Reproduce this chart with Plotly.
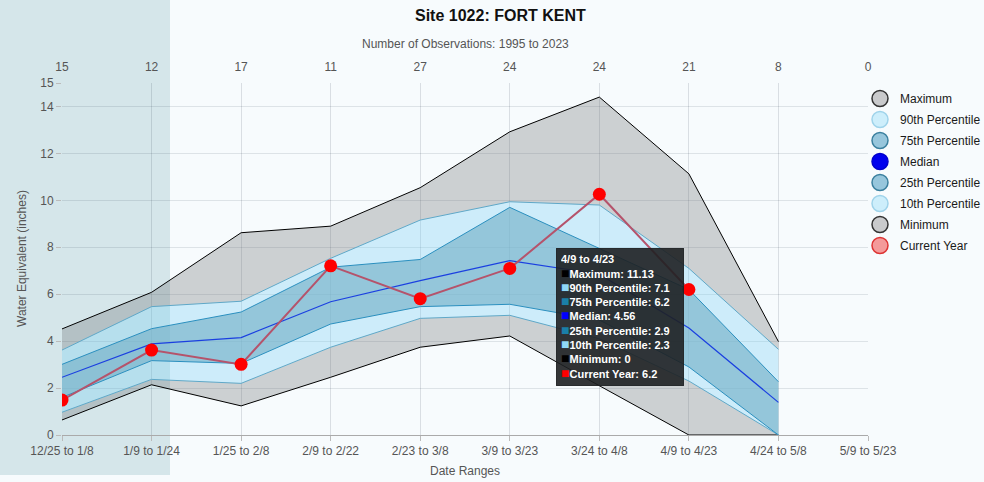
import plotly.graph_objects as go

dates = ["12/25 to 1/8", "1/9 to 1/24", "1/25 to 2/8", "2/9 to 2/22", "2/23 to 3/8",
         "3/9 to 3/23", "3/24 to 4/8", "4/9 to 4/23", "4/24 to 5/8", "5/9 to 5/23"]
obs_counts = [15, 12, 17, 11, 27, 24, 24, 21, 8, 0]
maximum = [4.52, 6.08, 8.62, 8.90, 10.54, 12.92, 14.40, 11.13, 3.98, None]
p90 = [3.62, 5.47, 5.70, 7.53, 9.16, 9.94, 9.80, 7.1, 3.65, None]
p75 = [3.01, 4.53, 5.24, 7.15, 7.48, 9.70, 7.95, 6.2, 2.27, None]
median = [2.46, 3.88, 4.15, 5.68, 6.58, 7.43, 6.85, 4.56, 1.39, None]
p25 = [1.6, 3.17, 3.05, 4.73, 5.47, 5.57, 4.9, 2.9, 0, None]
p10 = [0.97, 2.37, 2.20, 3.74, 4.97, 5.10, 4.1, 2.3, 0, None]
minimum = [0.64, 2.14, 1.24, 2.46, 3.74, 4.22, 2.1, 0, 0, None]
current = [1.49, 3.62, 3.01, 7.21, 5.81, 7.10, 10.26, 6.2, None, None]
y_ticks = [0, 2, 4, 6, 8, 10, 12, 14, 15]

tip_date = "4/9 to 4/23"
tip_idx = dates.index(tip_date)

FONT = "Arial, Liberation Sans, Helvetica, sans-serif"
GRAY = "rgba(106,108,112,0.30)"
LIGHT = "rgba(127,208,244,0.35)"
DARK = "rgba(117,181,207,0.76)"

W, H = 984, 482
ML, MR, MT, MB = 62, 116, 83, 47
PW, PH = W - ML - MR, H - MT - MB


def px(x):
    return (x - ML) / PW


def py(y):
    return (H - MB - y) / PH


fig = go.Figure()

band_specs = [
    ("Minimum", minimum, "black", 1, None, None),
    ("10th Percentile", p10, "#5fa8c8", 1, "tonexty", GRAY),
    ("25th Percentile", p25, "#2a8fbf", 1, "tonexty", LIGHT),
    ("Median", median, "#1a3fe0", 1.2, "tonexty", DARK),
    ("75th Percentile", p75, "#2a8fbf", 1, "tonexty", DARK),
    ("90th Percentile", p90, "#5fa8c8", 1, "tonexty", LIGHT),
    ("Maximum", maximum, "black", 1, "tonexty", GRAY),
]
for name, vals, col, w, fill, fc in band_specs:
    kw = dict(fill=fill, fillcolor=fc) if fill else {}
    fig.add_trace(go.Scatter(x=dates, y=vals, mode="lines", name=name,
                             line=dict(color=col, width=w), showlegend=False,
                             hoverinfo="skip", **kw))

fig.add_trace(go.Scatter(x=dates, y=current, mode="lines+markers", name="Current Year",
                         line=dict(color="#b5536b", width=2),
                         marker=dict(color="#ff0000", size=13, line=dict(width=0)),
                         showlegend=False))

# invisible trace for top axis
fig.add_trace(go.Scatter(x=dates, y=[None] * len(dates), xaxis="x2", yaxis="y",
                         mode="lines", showlegend=False, hoverinfo="skip"))

legend_specs = [
    ("Maximum", "#c9cacc", "#333333"),
    ("90th Percentile", "#cdeefb", "#9fd3ea"),
    ("75th Percentile", "#97c6dc", "#3a7f9e"),
    ("Median", "#0000ee", "#0000cc"),
    ("25th Percentile", "#97c6dc", "#3a7f9e"),
    ("10th Percentile", "#cdeefb", "#9fd3ea"),
    ("Minimum", "#c9cacc", "#333333"),
    ("Current Year", "#f49a9a", "#dd3333"),
]
for i, (name, fc, lc) in enumerate(legend_specs):
    fig.add_trace(go.Scatter(x=[None], y=[None], mode="markers", name=name,
                             legendgroup=f"g{i}",
                             marker=dict(color=fc, size=16, line=dict(color=lc, width=1.5))))

tip_rows = [
    ("Maximum", maximum, "#000000"),
    ("90th Percentile", p90, "#8fd8f8"),
    ("75th Percentile", p75, "#1a7fa8"),
    ("Median", median, "#0000ff"),
    ("25th Percentile", p25, "#1a7fa8"),
    ("10th Percentile", p10, "#8fd8f8"),
    ("Minimum", minimum, "#000000"),
    ("Current Year", current, "#ff0000"),
]
tip_lines = [f"<b>{tip_date}</b>"]
for name, arr, c in tip_rows:
    v = arr[tip_idx]
    vs = f"{v:g}"
    tip_lines.append(f"<span style='color:{c};font-size:14px'>■</span><b>{name}: {vs}</b>")
tip_text = "<br>".join(tip_lines)

annotations = [
    dict(text="<b>Site 1022: FORT KENT</b>", xref="paper", yref="paper",
         x=px(500), y=py(15), xanchor="center", yanchor="middle", showarrow=False,
         font=dict(size=16, color="#111", family=FONT)),
    dict(text="Number of Observations: 1995 to 2023", xref="paper", yref="paper",
         x=px(465), y=py(44), xanchor="center", yanchor="middle", showarrow=False,
         font=dict(size=12, color="#555", family=FONT)),
    dict(text="Date Ranges", xref="paper", yref="paper",
         x=px(465), y=py(471), xanchor="center", yanchor="middle", showarrow=False,
         font=dict(size=12, color="#555", family=FONT)),
    dict(text="Water Equivalent (inches)", xref="paper", yref="paper",
         x=px(22), y=0.5, xanchor="center", yanchor="middle", showarrow=False,
         textangle=-90, font=dict(size=12, color="#555", family=FONT)),
    dict(text=tip_text, xref="paper", yref="paper", x=px(556), y=py(248),
         xanchor="left", yanchor="top", showarrow=False, align="left",
         bgcolor="rgba(30,32,34,0.9)", bordercolor="rgba(30,32,34,0.9)",
         borderpad=4, width=118, height=128,
         font=dict(size=11, color="white", family=FONT)),
]

shapes = [
    dict(type="rect", xref="paper", yref="paper", x0=px(0), x1=px(170),
         y0=py(475), y1=py(0), fillcolor="#d5e6ea", line=dict(width=0), layer="below"),
]

fig.update_layout(
    width=W, height=H,
    margin=dict(l=ML, r=MR, t=MT, b=MB, autoexpand=False),
    paper_bgcolor="#f7fbfd",
    plot_bgcolor="rgba(0,0,0,0)",
    font=dict(family=FONT, size=12, color="#555"),
    showlegend=True,
    legend=dict(xref="container", yref="container", x=860 / W, y=1 - 84 / H,
                xanchor="left", yanchor="top",
                bgcolor="rgba(0,0,0,0)", tracegroupgap=2,
                font=dict(size=12, color="#1a1a1a", family=FONT), itemsizing="trace"),
    xaxis=dict(type="category", categoryorder="array", categoryarray=dates,
               range=[0, len(dates) - 1], showgrid=True, gridcolor="rgba(0,20,40,0.12)",
               showline=True, linecolor="#aaaaaa", ticks="outside", ticklen=5,
               tickcolor="#bbbbbb", tickfont=dict(size=12, color="#555"), zeroline=False),
    xaxis2=dict(type="category", categoryorder="array", categoryarray=dates,
                overlaying="x", side="top", range=[0, len(dates) - 1],
                tickvals=dates, ticktext=[str(c) for c in obs_counts],
                showgrid=False, showline=False, ticks="outside", ticklen=6,
                tickcolor="rgba(0,0,0,0)", tickfont=dict(size=12, color="#555")),
    yaxis=dict(range=[0, 15], tickvals=y_ticks, showgrid=True,
               gridcolor="rgba(0,20,40,0.10)", zeroline=False, ticks="outside",
               ticklen=5, tickcolor="#bbbbbb", tickfont=dict(size=12, color="#555")),
    annotations=annotations,
    shapes=shapes,
)

fig.write_html("out.html", config={"displayModeBar": False},
               post_script="document.body.style.margin='0';document.body.style.padding='0';")
